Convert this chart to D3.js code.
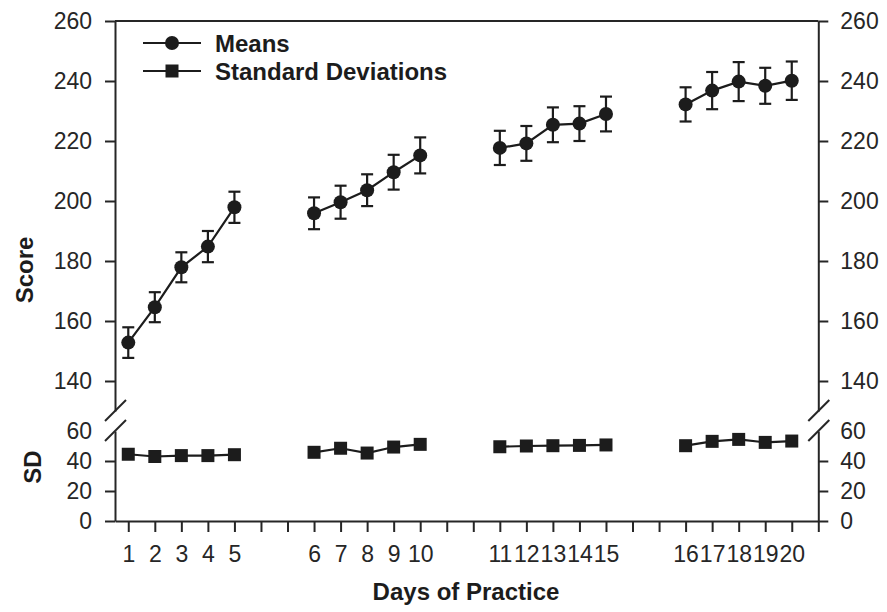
<!DOCTYPE html>
<html>
<head>
<meta charset="utf-8">
<script src="https://cdn.jsdelivr.net/npm/d3@7"></script>
<style>
  body { margin: 0; background: #fff; }
  svg { font-family: "Liberation Sans", Arial, Helvetica, sans-serif; }
  .axis path, .axis line { stroke: #262626; stroke-width: 2; }
  .axis text { font-size: 23px; fill: #262626; }
</style>
</head>
<body>
<div id="chart"></div>
<script>
// Data
const days = d3.range(1, 21);
const means = [152.8, 164.6, 177.9, 184.8, 197.9,
  195.9, 199.6, 203.6, 209.6, 215.2,
  217.7, 219.2, 225.4, 225.8, 229.0,
  232.2, 236.8, 239.8, 238.4, 240.1];
const meanErrors = [5.1, 5.0, 5.0, 5.2, 5.2,
  5.3, 5.5, 5.3, 5.8, 6.0,
  5.7, 5.8, 5.8, 5.8, 5.8,
  5.7, 6.2, 6.5, 6.0, 6.4];
const sds = [44.5, 43.0, 43.6, 43.6, 44.2,
  45.8, 48.5, 45.3, 49.3, 51.1,
  49.5, 50.0, 50.2, 50.4, 50.7,
  50.2, 53.1, 54.4, 52.4, 53.3];
const scoreTicks = [140, 160, 180, 200, 220, 240, 260];
const sdTicks = [0, 20, 40, 60];

// days come in blocks of 5, with 2 empty slots between blocks
const blockSize = 5;
const blockGap = 2;
const slotOf = (d) => (d - 1) + blockGap * Math.floor((d - 1) / blockSize);
const blockOf = (d) => Math.floor((d - 1) / blockSize);

const rows = days.map((d, i) => ({
  day: d,
  slot: slotOf(d),
  block: blockOf(d),
  mean: means[i],
  err: meanErrors[i],
  sd: sds[i],
}));

const dimensions = {
  width: 887,
  height: 612,
  left: 115,
  right: 818.3,
  top: 21,
  breakTop: 411,
  breakBottom: 431,
  bottom: 521,
};

const svg = d3.select("#chart")
  .append("svg")
  .attr("width", dimensions.width)
  .attr("height", dimensions.height);

const xScale = d3.scaleLinear()
  .domain([-0.5, slotOf(days[days.length - 1]) + 1])
  .range([dimensions.left, dimensions.right]);

const yTop = d3.scaleLinear()
  .domain([130, 260])
  .range([dimensions.breakTop, dimensions.top]);

const yBot = d3.scaleLinear()
  .domain([0, 60])
  .range([dimensions.bottom, dimensions.breakBottom]);

const ink = "#1c1c1c";

// Axes
const slotLabel = new Map(rows.map((r) => [r.slot, String(r.day)]));
const xAxis = d3.axisBottom(xScale)
  .tickValues(d3.range(0, xScale.domain()[1] + 1))
  .tickFormat((s) => slotLabel.get(s) || "")
  .tickSize(11)
  .tickSizeOuter(0)
  .tickPadding(14);

svg.append("g")
  .attr("class", "axis")
  .attr("transform", `translate(0, ${dimensions.bottom})`)
  .call(xAxis);

svg.append("g")
  .attr("class", "axis")
  .attr("transform", `translate(${dimensions.left}, 0)`)
  .call(d3.axisLeft(yTop).tickValues(scoreTicks).tickSize(10).tickSizeOuter(0).tickPadding(13));

svg.append("g")
  .attr("class", "axis")
  .attr("transform", `translate(${dimensions.left}, 0)`)
  .call(d3.axisLeft(yBot).tickValues(sdTicks).tickSize(10).tickSizeOuter(0).tickPadding(13))
  .call((g) => g.selectAll(".tick").filter((d) => d === 60).select("line").remove());

svg.append("g")
  .attr("class", "axis")
  .attr("transform", `translate(${dimensions.right}, 0)`)
  .call(d3.axisRight(yTop).tickValues(scoreTicks).tickSize(10).tickSizeOuter(0).tickPadding(12));

svg.append("g")
  .attr("class", "axis")
  .attr("transform", `translate(${dimensions.right}, 0)`)
  .call(d3.axisRight(yBot).tickValues(sdTicks).tickSize(10).tickSizeOuter(0).tickPadding(12))
  .call((g) => g.selectAll(".tick").filter((d) => d === 60).select("line").remove());

// top frame line
svg.append("line")
  .attr("x1", dimensions.left)
  .attr("x2", dimensions.right)
  .attr("y1", yTop(260))
  .attr("y2", yTop(260))
  .attr("stroke", "#262626")
  .attr("stroke-width", 2);

// axis break slashes
[dimensions.left, dimensions.right].forEach((x) => {
  [yTop.range()[0], yBot.range()[1]].forEach((y) => {
    svg.append("line")
      .attr("x1", x - 10)
      .attr("y1", y + 10)
      .attr("x2", x + 11)
      .attr("y2", y - 11)
      .attr("stroke", "#262626")
      .attr("stroke-width", 2);
  });
});

// Means with error bars
const blocks = d3.groups(rows, (d) => d.block);

const meanLine = d3.line()
  .x((d) => xScale(d.slot))
  .y((d) => yTop(d.mean));

const sdLine = d3.line()
  .x((d) => xScale(d.slot))
  .y((d) => yBot(d.sd));

blocks.forEach(([, blockRows]) => {
  svg.append("path")
    .datum(blockRows)
    .attr("d", meanLine)
    .attr("fill", "none")
    .attr("stroke", ink)
    .attr("stroke-width", 2.2);

  svg.append("path")
    .datum(blockRows)
    .attr("d", sdLine)
    .attr("fill", "none")
    .attr("stroke", ink)
    .attr("stroke-width", 2.2);
});

const errG = svg.append("g")
  .attr("stroke", ink)
  .attr("stroke-width", 2.2);

rows.forEach((d) => {
  const x = xScale(d.slot);
  const y0 = yTop(d.mean - d.err);
  const y1 = yTop(d.mean + d.err);
  errG.append("line").attr("x1", x).attr("x2", x).attr("y1", y0).attr("y2", y1);
  errG.append("line").attr("x1", x - 6).attr("x2", x + 6).attr("y1", y0).attr("y2", y0);
  errG.append("line").attr("x1", x - 6).attr("x2", x + 6).attr("y1", y1).attr("y2", y1);
});

svg.append("g")
  .selectAll("circle")
  .data(rows)
  .join("circle")
  .attr("cx", (d) => xScale(d.slot))
  .attr("cy", (d) => yTop(d.mean))
  .attr("r", 7)
  .attr("fill", ink);

const sq = 13;
svg.append("g")
  .selectAll("rect")
  .data(rows)
  .join("rect")
  .attr("x", (d) => xScale(d.slot) - sq / 2)
  .attr("y", (d) => yBot(d.sd) - sq / 2)
  .attr("width", sq)
  .attr("height", sq)
  .attr("fill", ink);

// Legend
const legend = svg.append("g").attr("transform", "translate(143, 43)");
const legendItems = [
  { label: "Means", shape: "circle" },
  { label: "Standard Deviations", shape: "square" },
];
legendItems.forEach((item, i) => {
  const g = legend.append("g").attr("transform", `translate(0, ${i * 28})`);
  g.append("line")
    .attr("x1", 0).attr("x2", 58)
    .attr("stroke", ink).attr("stroke-width", 2.2);
  if (item.shape === "circle") {
    g.append("circle").attr("cx", 29).attr("r", 7).attr("fill", ink);
  } else {
    g.append("rect").attr("x", 29 - sq / 2).attr("y", -sq / 2)
      .attr("width", sq).attr("height", sq).attr("fill", ink);
  }
  g.append("text")
    .attr("x", 72)
    .attr("y", 9)
    .attr("font-size", 24)
    .attr("font-weight", "bold")
    .attr("fill", ink)
    .text(item.label);
});

// Titles
svg.append("text")
  .attr("x", 466)
  .attr("y", 600)
  .attr("text-anchor", "middle")
  .attr("font-size", 24)
  .attr("font-weight", "bold")
  .attr("fill", ink)
  .text("Days of Practice");

svg.append("text")
  .attr("transform", "translate(33, 270) rotate(-90)")
  .attr("text-anchor", "middle")
  .attr("font-size", 24)
  .attr("font-weight", "bold")
  .attr("fill", ink)
  .text("Score");

svg.append("text")
  .attr("transform", "translate(41, 467) rotate(-90)")
  .attr("text-anchor", "middle")
  .attr("font-size", 24)
  .attr("font-weight", "bold")
  .attr("fill", ink)
  .text("SD");
</script>
</body>
</html>
